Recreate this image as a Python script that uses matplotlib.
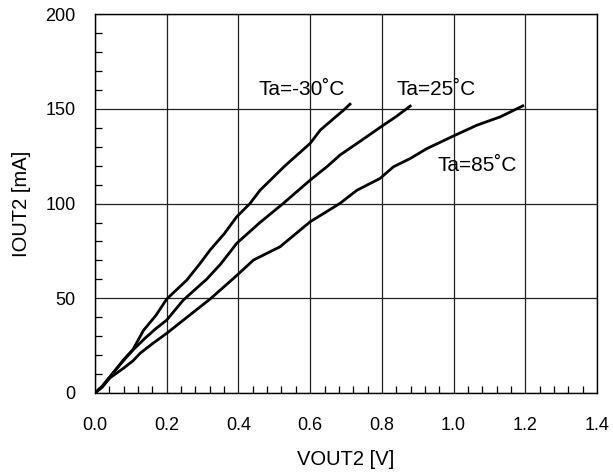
import matplotlib
matplotlib.use("Agg")
import matplotlib.pyplot as plt
from matplotlib.ticker import MultipleLocator

plt.rcParams['font.family'] = ['Liberation Sans', 'DejaVu Sans']

# output current vs output voltage at three ambient temperatures
v_m30 = [0, 0.02, 0.042, 0.079, 0.106, 0.135, 0.17, 0.2, 0.256, 0.293, 0.321, 0.36,
         0.395, 0.432, 0.46, 0.53, 0.6, 0.628, 0.66, 0.693, 0.711]
i_m30 = [0, 3.5, 8.6, 17.4, 23, 33, 41, 49.6, 59.6, 68.4, 75.5, 84,
         93, 100, 107, 120, 131.8, 138.8, 144, 149.3, 152.5]

v_25 = [0, 0.02, 0.042, 0.079, 0.106, 0.14, 0.17, 0.2, 0.246, 0.293, 0.311, 0.35,
        0.381, 0.395, 0.46, 0.525, 0.6, 0.65, 0.683, 0.74, 0.804, 0.84, 0.879]
i_25 = [0, 3.5, 8.6, 17, 22.7, 29, 34, 38.5, 49, 57, 60, 68,
        75.5, 79, 90, 100.1, 112.4, 120, 125.6, 133, 141.4, 146, 151.5]

v_85 = [0, 0.02, 0.042, 0.079, 0.106, 0.126, 0.16, 0.2, 0.26, 0.321, 0.395, 0.442,
        0.516, 0.6, 0.683, 0.73, 0.795, 0.832, 0.879, 0.925, 1.004, 1.065, 1.13, 1.193]
i_85 = [0, 3, 8, 13, 17, 21, 26, 31.5, 40.5, 49.6, 62, 70.2,
        77.2, 90.4, 100.1, 107, 113.3, 119.4, 123.8, 129, 136.1, 141.4, 145.8, 151.6]

labels = ["Ta=-30˚C", "Ta=25˚C", "Ta=85˚C"]

fig = plt.figure(figsize=(6.13, 4.74), dpi=100)
ax = fig.add_axes([0.155, 0.171, 0.819, 0.799])

for v, i in [(v_m30, i_m30), (v_25, i_25), (v_85, i_85)]:
    ax.plot(v, i, color='black', linewidth=2.0, solid_joinstyle='round')

ax.set_xlim(0, 1.4)
ax.set_ylim(0, 200)
ax.xaxis.set_major_locator(MultipleLocator(0.2))
ax.xaxis.set_minor_locator(MultipleLocator(0.04))
ax.yaxis.set_major_locator(MultipleLocator(50))
ax.yaxis.set_minor_locator(MultipleLocator(10))
ax.set_xticklabels([f"{t:.1f}" for t in ax.get_xticks()])

ax.grid(True, which='major', color='#222222', linewidth=0.9)
ax.tick_params(axis='x', which='major', length=0, pad=17, labelsize=13)
ax.tick_params(axis='y', which='major', length=0, pad=14, labelsize=13)
ax.tick_params(which='minor', direction='in', length=5, width=0.9, color='black')
for s in ax.spines.values():
    s.set_linewidth(1.0)

ax.set_xlabel("VOUT2 [V]", fontsize=14.5, labelpad=12)
ax.set_ylabel("IOUT2 [mA]", fontsize=14.5, labelpad=10)

ax.text(0.455, 160, labels[0], fontsize=15, va='center')
ax.text(0.84, 160, labels[1], fontsize=15, va='center')
ax.text(0.955, 120, labels[2], fontsize=15, va='center')

fig.savefig("out.png", dpi=100)
